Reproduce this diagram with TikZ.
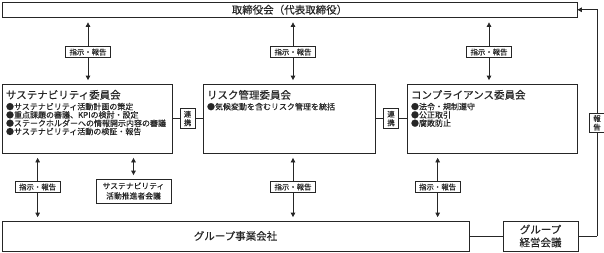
\documentclass[tikz,border=0pt]{standalone}
\usepackage{fontspec}
\setmainfont{Noto Sans CJK JP}[FakeBold=0.4]
\usetikzlibrary{positioning,arrows.meta}

\begin{document}
\begin{tikzpicture}[
  x=1pt, y=-1pt, line width=0.7pt, black!85,
  box/.style={draw, inner sep=0pt, align=center},
  big/.style={font=\fontsize{10.5}{13}\selectfont},
  small/.style={font=\fontsize{8}{8.3}\selectfont},
  tag/.style={draw, fill=white, inner xsep=3.8pt, inner ysep=2.2pt, align=center, font=\fontsize{7.4}{8.6}\selectfont},
  dbl/.style={{Triangle[length=4.5pt,width=4.5pt]}-{Triangle[length=4.5pt,width=4.5pt]}, shorten <=4.5pt, shorten >=3.5pt},
  arr/.style={-{Triangle[length=4.5pt,width=4.5pt]}}
]
  \useasboundingbox (0,0) rectangle (604,252);

  % board
  \node[box, big, minimum width=575pt, minimum height=15.5pt] (board) at (289.5,9.75) {取締役会（代表取締役）};

  % committees
  \node[box, minimum width=170pt, minimum height=69pt] (sus) at (87,118.5) {};
  \node[box, minimum width=172pt, minimum height=69pt] (risk) at (289,118.5) {};
  \node[box, minimum width=170pt, minimum height=69pt] (comp) at (492,118.5) {};

  \node[big, inner sep=0pt, anchor=north west] (sust) at ([shift={(4,6)}]sus.north west) {サステナビリティ委員会};
  \node[small, inner sep=0pt, anchor=north west, align=left] (susb) at ([shift={(0,2.5)}]sust.south west)
    {●サステナビリティ活動計画の策定\\●重点課題の審議、KPIの検討・設定\\●ステークホルダーへの情報開示内容の審議\\●サステナビリティ活動の検証・報告};
  \node[big, inner sep=0pt, anchor=north west] (riskt) at ([shift={(4,6)}]risk.north west) {リスク管理委員会};
  \node[small, inner sep=0pt, anchor=north west, align=left] (riskb) at ([shift={(0,2.5)}]riskt.south west)
    {●気候変動を含むリスク管理を統括};
  \node[big, inner sep=0pt, anchor=north west] (compt) at ([shift={(4,6)}]comp.north west) {コンプライアンス委員会};
  \node[small, inner sep=0pt, anchor=north west, align=left] (compb) at ([shift={(0,2.5)}]compt.south west)
    {●法令・規制遵守\\●公正取引\\●腐敗防止};

  % lower boxes
  \node[box, minimum width=75pt, minimum height=24pt, font=\fontsize{7.8}{10}\selectfont] (prom) at (133.5,191) {サステナビリティ\\活動推進者会議};
  \node[box, big, minimum width=467pt, minimum height=30pt] (grp) at (235.5,236) {グループ事業会社};
  \node[box, big, minimum width=75pt, minimum height=30pt] (mgmt) at (540.5,236) {グループ\\経営会議};

  % links between committees
  \draw (sus) -- node[tag] (link1) {連\\携} (risk);
  \draw (risk) -- node[tag] (link2) {連\\携} (comp);

  % board <-> committees
  \coordinate (u1) at ([xshift=1pt]sus.north);
  \coordinate (u2) at ([xshift=4pt]risk.north);
  \coordinate (u3) at ([xshift=-3pt]comp.north);
  \draw[dbl] (u1 |- board.south) -- node[tag, pos=0.52] (ir1) {指示・報告} (u1);
  \draw[dbl] (u2 |- board.south) -- node[tag, pos=0.52] (ir2) {指示・報告} (u2);
  \draw[dbl] (u3 |- board.south) -- node[tag, pos=0.52] (ir3) {指示・報告} (u3);

  % committees <-> group companies
  \coordinate (d1) at ([xshift=36pt]sus.south west);
  \coordinate (d2) at ([xshift=4pt]risk.south);
  \coordinate (d3) at ([xshift=31pt]comp.south west);
  \draw[dbl] (d1) -- node[tag] (ir4) {指示・報告} (d1 |- grp.north);
  \draw[dbl] (d2) -- node[tag] (ir5) {指示・報告} (d2 |- grp.north);
  \draw[dbl] (d3) -- node[tag] (ir6) {指示・報告} (d3 |- grp.north);
  \draw[dbl] (prom.north |- sus.south) -- (prom.north);

  % group management meeting -> board
  \draw (grp) -- (mgmt);
  \coordinate (rc) at (597,236);
  \draw (mgmt.east) -- (rc);
  \draw[arr] (rc) |- node[tag, pos=0.25] (rep) {報\\告} (board.east);
\end{tikzpicture}
\end{document}
